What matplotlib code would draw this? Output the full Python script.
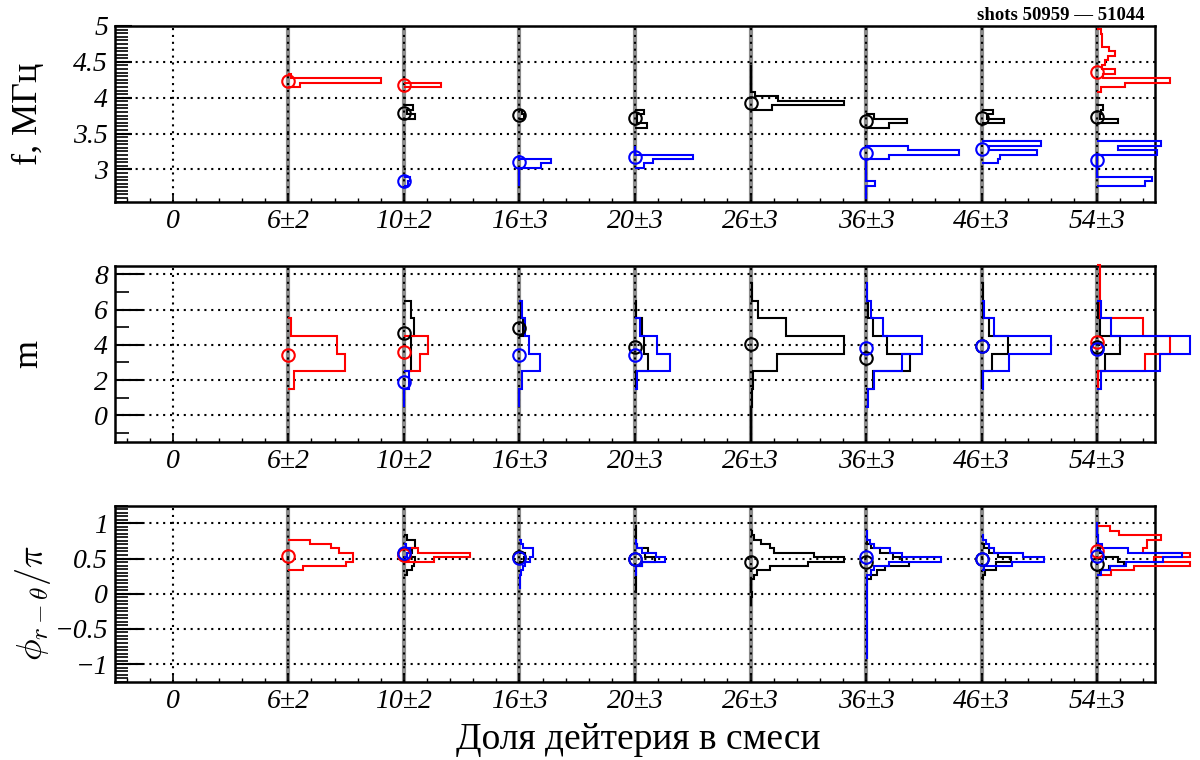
import numpy as np
import matplotlib
matplotlib.use('Agg')
import matplotlib.pyplot as plt
from matplotlib.ticker import MultipleLocator, FuncFormatter

plt.rcParams['font.family'] = ['Liberation Serif', 'DejaVu Serif']
plt.rcParams['mathtext.fontset'] = 'cm'

# x categories (deuterium fraction in the mix)
categories = ['0', '6±2', '10±2', '16±3', '20±3', '26±3', '36±3', '46±3', '54±3']

# histograms: category -> (lowest bin edge, bin contents from bottom to top)
BW_F = 0.0625
f_red = {1: (4.145, [0.10, 0.80, 0.02]),
         2: (4.145, [0.32]),
         8: (4.0825, [0.03, 0.24, 0.63, 0.05, 0.15, 0.04, 0.064, 0.093, 0.15, 0.106, 0.04, 0.045, 0.045, 0.03])}
f_black = {2: (3.7075, [0.10, 0.03, 0.075]),
           3: (3.7075, [0.04, 0.02]),
           4: (3.5825, [0.10, 0.02, 0.02, 0.08]),
           5: (3.8325, [0.19, 0.81, 0.24, 0.04, 0, 0, 0, 0, 0, 0]),
           6: (3.5825, [0.20, 0.35, 0.07]),
           7: (3.645, [0.19, 0.05, 0.10]),
           8: (3.645, [0.18, 0.02, 0.03, 0.05])}
f_blue = {2: (2.77, [0.04, 0.05]),
          3: (2.77, [0, 0, 0, 0, 0.19, 0.27, 0]),
          4: (3.02, [0.08, 0.16, 0.50, 0, 0]),
          6: (2.5825, [0, 0, 0, 0.08, 0, 0, 0, 0, 0, 0.20, 0.80, 0.36]),
          7: (3.0825, [0.14, 0.16, 0.48, 0.06, 0.51]),
          8: (2.77, [0.41, 0.47, 0, 0, 0, 0, 0, 0.52, 0.18, 0.55])}
f_mean_red = {1: 4.23, 2: 4.18, 8: 4.36}
f_mean_black = {2: 3.79, 3: 3.76, 4: 3.71, 5: 3.93, 6: 3.68, 7: 3.71, 8: 3.73}
f_mean_blue = {2: 2.84, 3: 3.10, 4: 3.17, 6: 3.23, 7: 3.28, 8: 3.13}

BW_M = 1.0
m_red = {1: (1.5, [0.05, 0.49, 0.42, 0.02]),
         2: (2.5, [0.14, 0.21]),
         8: (1.5, [0.01, 0.41, 0.63, 0.40, 0.02, 0.02, 0.02])}
m_black = {2: (2.5, [0.06, 0.06, 0.09, 0.06]),
           3: (4.5, [0.03, 0.01]),
           4: (1.5, [0.005, 0.11, 0.08, 0.06, 0.01]),
           5: (-1.5, [0, 0, 0.01, 0.025, 0.23, 0.81, 0.31, 0.065, 0.01]),
           6: (1.5, [0.06, 0.38, 0.18, 0.06, 0.02]),
           7: (1.5, [0, 0.09, 0.23, 0.06, 0.01, 0.01]),
           8: (1.5, [0.01, 0.07, 0.20, 0.02, 0.01])}
m_blue = {2: (0.5, [0, 0.045]),
          3: (0.5, [0, 0.02, 0.18, 0.08, 0.045, 0.02]),
          4: (1.5, [0.02, 0.30, 0.19, 0.04]),
          6: (0.5, [0.015, 0.07, 0.31, 0.48, 0.15, 0.04, 0.005]),
          7: (1.5, [0.01, 0.24, 0.60, 0.11, 0.02]),
          8: (1.5, [0.03, 0.54, 0.80, 0.115, 0.035])}
m_mean_red = {1: 3.43, 2: 3.58, 8: 4.18}
m_mean_black = {2: 4.66, 3: 4.94, 4: 3.86, 5: 4.05, 6: 3.24, 7: 3.96, 8: 3.86}
m_mean_blue = {2: 1.92, 3: 3.43, 4: 3.43, 6: 3.81, 7: 3.96, 8: 3.75}

BW_P = 0.0625
p_red = {1: (0.33, [0.13, 0.50, 0.56, 0.56, 0.44, 0.37, 0.185]),
         2: (0.455, [0.26, 0.57, 0.12]),
         8: (0.2675, [0.115, 0.32, 0.80, 0.49, 0.80, 0.40, 0.43, 0.43, 0.55, 0.185, 0.11, 0])}
p_black = {2: (0.2675, [0.03, 0.07, 0.09, 0.10, 0.06, 0.07, 0.10, 0.10, 0.03]),
           3: (0.455, [0.04, 0.05]),
           4: (0.0175, [0.005, 0.005, 0.005, 0.005, 0.005, 0.01, 0.06, 0.17, 0.09, 0.115, 0.02, 0.01, 0.005, 0.005, 0.005]),
           5: (-0.17, [0.005, 0.005, 0.01, 0.005, 0.005, 0.005, 0.03, 0.06, 0.17, 0.50, 0.81, 0.55, 0.20, 0.17, 0.09, 0.03, 0.015]),
           6: (0.205, [0.04, 0.09, 0.16, 0.37, 0.31, 0.23, 0.12, 0.04, 0.01]),
           7: (0.205, [0.01, 0.03, 0.12, 0.12, 0.25, 0.14, 0.065, 0.02]),
           8: (0.2675, [0.02, 0.10, 0.23, 0.18, 0.05, 0.02])}
p_blue = {2: (0.5175, [0.03, 0.05, 0.02]),
          3: (0.08, [0.005, 0.005, 0.005, 0.01, 0.03, 0.05, 0.09, 0.12, 0.12, 0.03, 0.01]),
          4: (0.2675, [0.005, 0.01, 0.065, 0.26, 0.18, 0.065, 0.02, 0.005]),
          6: (-0.92, [0.005, 0.005, 0.005, 0.005, 0.005, 0.005, 0.005, 0.005, 0.005, 0.005,
                      0.005, 0.005, 0.005, 0.005, 0.005, 0.005, 0.005, 0.005, 0.005,
                      0.04, 0.07, 0.20, 0.65, 0.31, 0.21, 0.07, 0.035, 0.01, 0.01]),
          7: (0.33, [0.02, 0.26, 0.54, 0.36, 0.11, 0.065, 0.04, 0.015]),
          8: (0.2675, [0.03, 0.11, 0.25, 0.57, 0.73, 0.27, 0.04, 0.01, 0.01, 0, 0, 0])}
p_mean_red = {1: 0.54, 2: 0.55, 8: 0.60}
p_mean_black = {2: 0.56, 3: 0.52, 4: 0.49, 5: 0.455, 6: 0.455, 7: 0.50, 8: 0.42}
p_mean_blue = {2: 0.58, 3: 0.51, 4: 0.49, 6: 0.52, 7: 0.50, 8: 0.53}

panels = [
    dict(bottom=0.7342, ylim=(2.545, 5.0), major=0.5, minor=0.05, tl=(12, 9), bw=BW_F,
         label='f, МГц', lab_xy=(-0.083, 0.5),
         hists=[(f_black, f_mean_black, 'black'), (f_red, f_mean_red, 'red'), (f_blue, f_mean_blue, 'blue')]),
    dict(bottom=0.4184, ylim=(-1.51, 8.47), major=2, minor=1, tl=(20, 10), bw=BW_M,
         label='m', lab_xy=(-0.083, 0.5),
         hists=[(m_black, m_mean_black, 'black'), (m_red, m_mean_red, 'red'), (m_blue, m_mean_blue, 'blue')]),
    dict(bottom=0.1030, ylim=(-1.25, 1.25), major=0.5, minor=0.05, tl=(20, 9), bw=BW_P,
         label=r'$\phi_{r-\theta}/\pi$', lab_xy=(-0.079, 0.45),
         hists=[(p_black, p_mean_black, 'black'), (p_red, p_mean_red, 'red'), (p_blue, p_mean_blue, 'blue')]),
]

fmt = FuncFormatter(lambda v, pos: f'{v:g}'.replace('-', '\u2212'))

fig = plt.figure(figsize=(12, 7.6), dpi=100)
for p in panels:
    ax = fig.add_axes([0.0958, p['bottom'], 0.8667, 0.2316])
    ax.set_xlim(-0.5, 8.5)
    ax.set_ylim(*p['ylim'])
    ax.set_axisbelow('line')

    # gray category markers
    for c in range(1, len(categories)):
        ax.axvline(c, color='0.55', lw=3, zorder=1)

    for hist, means, color in p['hists']:
        for c, (lo, counts) in hist.items():
            edges = lo + p['bw'] * np.arange(len(counts) + 1)
            ax.stairs(c + np.asarray(counts), edges, baseline=c, orientation='horizontal',
                      color=color, lw=1.5, zorder=3, clip_on=False)
        ax.plot(list(means.keys()), list(means.values()), 'o', ms=9, mfc='none',
                mec=color, mew=1.5, zorder=4, clip_on=False)

    ax.set_xticks(range(len(categories)))
    ax.set_xticklabels(categories)
    ax.xaxis.set_minor_locator(MultipleLocator(0.2))
    ax.yaxis.set_major_locator(MultipleLocator(p['major']))
    ax.yaxis.set_minor_locator(MultipleLocator(p['minor']))
    ax.yaxis.set_major_formatter(fmt)
    ax.tick_params(axis='x', which='major', direction='in', length=5, width=1.2, pad=5, labelsize=20)
    ax.tick_params(axis='x', which='minor', direction='in', length=3, width=1.0)
    ax.tick_params(axis='y', which='major', direction='in', length=p['tl'][0], width=1.5, pad=5, labelsize=20)
    ax.tick_params(axis='y', which='minor', direction='in', length=p['tl'][1], width=1.2)
    for lab in ax.get_xticklabels() + ax.get_yticklabels():
        lab.set_fontstyle('italic')
    ax.grid(True, which='major', color='black', lw=1.5, ls=(0, (1, 2.3)))
    for s in ax.spines.values():
        s.set_linewidth(1.8)

    ax.set_ylabel(p['label'], fontsize=26, va='center')
    ax.yaxis.set_label_coords(*p['lab_xy'])

fig.text(0.532, 1 - 740 / 760, 'Доля дейтерия в смеси', fontsize=27, ha='center', va='center')
fig.text(0.954, 1 - 16 / 760, 'shots 50959 — 51044', fontsize=13.5, fontweight='bold', ha='right', va='center')

fig.savefig('out.png', dpi=100)
